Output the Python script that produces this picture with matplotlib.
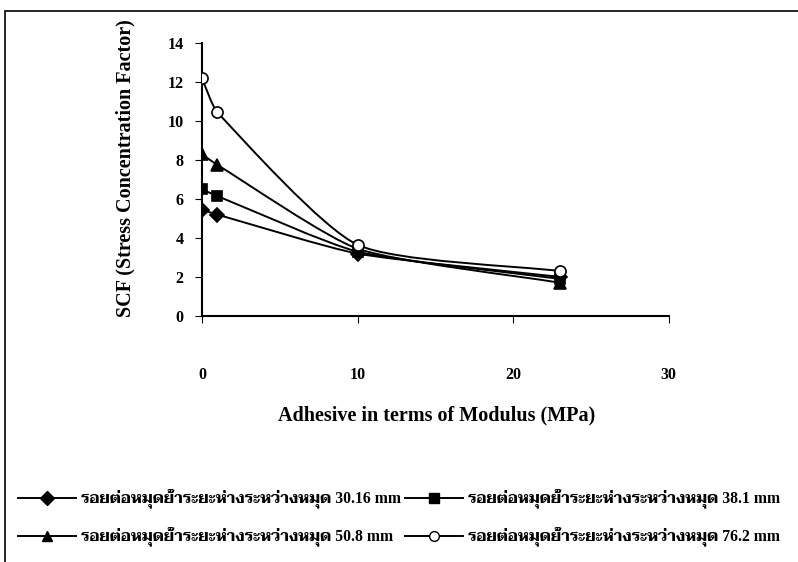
import matplotlib
matplotlib.use('Agg')
import matplotlib.pyplot as plt
import numpy as np
from matplotlib.path import Path
from matplotlib.patches import PathPatch
from matplotlib.lines import Line2D

# datos
modulo = [0, 1, 10, 23]
scf_3016 = [5.45, 5.2, 3.2, 2.0]
scf_381 = [6.5, 6.15, 3.3, 1.9]
scf_508 = [8.3, 7.75, 3.45, 1.7]
scf_762 = [12.2, 10.45, 3.65, 2.3]

etiquetas = ['รอยต่อหมุดย้ำระยะห่างระหว่างหมุด 30.16 mm',
             'รอยต่อหมุดย้ำระยะห่างระหว่างหมุด 38.1 mm',
             'รอยต่อหมุดย้ำระยะห่างระหว่างหมุด 50.8 mm',
             'รอยต่อหมุดย้ำระยะห่างระหว่างหมุด 76.2 mm']
marcadores = ['D', 's', '^', 'o']

plt.rcParams['font.family'] = ['Liberation Serif', 'Taviraj', 'DejaVu Sans']
plt.rcParams['font.weight'] = 'bold'


def curva_suave(ax, xs, ys, tension=1 / 5):
    # curva tipo Excel: bezier cubica en coordenadas de pantalla
    pts = ax.transData.transform(np.column_stack([xs, ys]))
    n = len(pts)
    tang = []
    for i in range(n):
        a = pts[max(i - 1, 0)]
        b = pts[min(i + 1, n - 1)]
        d = b - a
        tang.append(d / np.hypot(*d))
    verts = [pts[0]]
    codes = [Path.MOVETO]
    for i in range(n - 1):
        L = np.hypot(*(pts[i + 1] - pts[i]))
        verts += [pts[i] + tang[i] * L * tension, pts[i + 1] - tang[i + 1] * L * tension, pts[i + 1]]
        codes += [Path.CURVE4] * 3
    verts = ax.transData.inverted().transform(np.array(verts))
    ax.add_patch(PathPatch(Path(verts, codes), fill=False, edgecolor='black',
                           lw=1.4, transform=ax.transData, zorder=2))


fig = plt.figure(figsize=(7.98, 5.62), dpi=100)
ax = fig.add_axes([0.253, 0.438, 0.585, 0.485])
ax.set_xlim(0, 30)
ax.set_ylim(0, 14)

series = [scf_3016, scf_381, scf_508, scf_762]
for datos, m in zip(series, marcadores):
    curva_suave(ax, modulo, datos)
    fc = 'white' if m == 'o' else 'black'
    tam = {'D': 7, 's': 7, '^': 8, 'o': 8}[m]
    ax.plot(modulo, datos, linestyle='none', marker=m, markersize=tam,
            markerfacecolor=fc, markeredgecolor='black', markeredgewidth=1.2, zorder=3)

ax.set_xticks([0, 10, 20, 30])
ax.set_yticks(range(0, 15, 2))
ax.tick_params(axis='x', direction='out', length=5, pad=32, labelsize=11.5)
ax.tick_params(axis='y', direction='out', length=5, pad=8, labelsize=11.5)
for s in ['top', 'right']:
    ax.spines[s].set_visible(False)
ax.spines['left'].set_linewidth(1.5)
ax.spines['bottom'].set_linewidth(1.5)

fig.text(0.547, 0.261, 'Adhesive in terms of Modulus (MPa)', ha='center', va='center',
         fontsize=14.5, fontweight='bold')
fig.text(0.157, 0.70, 'SCF (Stress Concentration Factor)', ha='center', va='center',
         rotation=90, fontsize=14.5, fontweight='bold')

handles = []
for m in marcadores:
    fc = 'white' if m == 'o' else 'black'
    handles.append(Line2D([], [], color='black', lw=1.4, marker=m, markersize=7,
                          markerfacecolor=fc, markeredgecolor='black'))
orden = [0, 2, 1, 3]
fig.legend([handles[i] for i in orden], [etiquetas[i] for i in orden], ncol=2,
           loc='center', bbox_to_anchor=(0.5, 0.078), frameon=False,
           prop=dict(family=['Liberation Serif', 'Taviraj'], size=11.3, weight='bold'),
           handlelength=3.7, columnspacing=0.3, labelspacing=1.2, handletextpad=0.3,
           borderpad=0.1)

# marco exterior
fig.patches.append(plt.Rectangle((0.006, -0.01), 1.2, 0.99, transform=fig.transFigure,
                                 fill=False, edgecolor='black', lw=1.2))

fig.savefig('out.png', dpi=100)
